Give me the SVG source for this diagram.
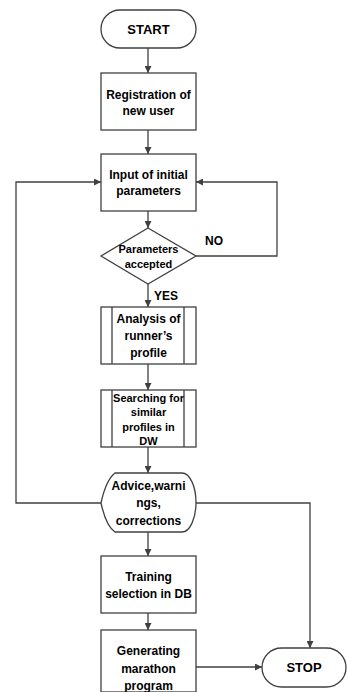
<svg xmlns="http://www.w3.org/2000/svg" width="347" height="692" viewBox="0 0 347 692">
<style>
.s{fill:#fff;stroke:#404040;stroke-width:1.3}
.c{fill:none;stroke:#404040;stroke-width:1.3}
text{font-family:"Liberation Sans",Arial,sans-serif;font-weight:bold;font-size:12px;fill:#000;text-anchor:middle}
.big{font-size:13px}
.sm{font-size:11px}
</style>
<defs>
<marker id="ah" viewBox="0 0 10 10" refX="10" refY="5" markerWidth="7" markerHeight="7" markerUnits="userSpaceOnUse" orient="auto">
<path d="M0,0 L10,5 L0,10 Z" fill="#404040"/>
</marker>
</defs>
<g id="connectors">
<path class="c" d="M148,48 V73" marker-end="url(#ah)"/>
<path class="c" d="M148,130 V154" marker-end="url(#ah)"/>
<path class="c" d="M148,211 V228" marker-end="url(#ah)"/>
<path class="c" d="M196,256 H277 V182 H196" marker-end="url(#ah)"/>
<path class="c" d="M148,284 V307" marker-end="url(#ah)"/>
<path class="c" d="M148,364 V390" marker-end="url(#ah)"/>
<path class="c" d="M148,447 V473" marker-end="url(#ah)"/>
<path class="c" d="M101,503 H16 V182 H101" marker-end="url(#ah)"/>
<path class="c" d="M196,503 H310 V648" marker-end="url(#ah)"/>
<path class="c" d="M148,532 V556" marker-end="url(#ah)"/>
<path class="c" d="M148,613 V630" marker-end="url(#ah)"/>
<path class="c" d="M196,667 H262" marker-end="url(#ah)"/>
<text x="214" y="245">NO</text>
<text x="166" y="300">YES</text>
</g>
<g id="start">
<rect class="s" x="101" y="10" width="95" height="38" rx="19"/>
<text class="big" x="148.5" y="34">START</text>
</g>
<g id="registration">
<rect class="s" x="101" y="73" width="95" height="57"/>
<text x="148.5" y="99">Registration of</text>
<text x="148.5" y="115">new user</text>
</g>
<g id="input">
<rect class="s" x="101" y="154" width="95" height="57"/>
<text x="148.5" y="179">Input of initial</text>
<text x="148.5" y="195">parameters</text>
</g>
<g id="decision">
<path class="s" d="M148,228 L196,256 L148,284 L101,256 Z"/>
<text class="sm" x="148.5" y="253">Parameters</text>
<text class="sm" x="148.5" y="268">accepted</text>
</g>
<g id="analysis">
<rect class="s" x="101" y="307" width="95" height="57"/>
<path class="c" d="M112,307 V364 M184,307 V364"/>
<text x="148.5" y="323">Analysis of</text>
<text x="148.5" y="340">runner’s</text>
<text x="148.5" y="357">profile</text>
</g>
<g id="searching">
<rect class="s" x="101" y="390" width="95" height="57"/>
<path class="c" d="M112,390 V447 M184,390 V447"/>
<text class="sm" x="148.5" y="402">Searching for</text>
<text class="sm" x="148.5" y="416">similar</text>
<text class="sm" x="148.5" y="431">profiles in</text>
<text class="sm" x="148.5" y="445">DW</text>
</g>
<g id="advice">
<path class="s" d="M101,503 Q106,480 115,473 L182,473 A14,29.5 0 0 1 182,532 L115,532 Q106,526 101,503 Z"/>
<text x="148.5" y="490">Advice,warni</text>
<text x="148.5" y="507">ngs,</text>
<text x="148.5" y="525">corrections</text>
</g>
<g id="training">
<rect class="s" x="101" y="556" width="95" height="57"/>
<text x="148.5" y="581">Training</text>
<text x="148.5" y="598">selection in DB</text>
</g>
<g id="generating">
<rect class="s" x="101" y="630" width="95" height="62"/>
<text x="148.5" y="655">Generating</text>
<text x="148.5" y="673">marathon</text>
<text x="148.5" y="690">program</text>
</g>
<g id="stop">
<rect class="s" x="262" y="648" width="84" height="39" rx="19.5"/>
<text class="big" x="304" y="672">STOP</text>
</g>
</svg>
